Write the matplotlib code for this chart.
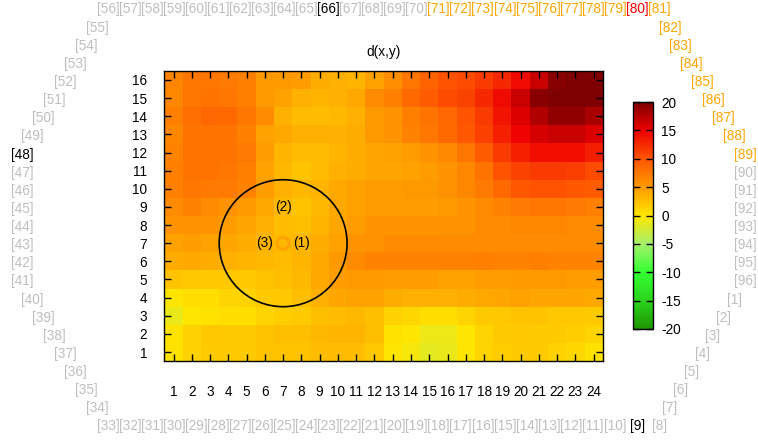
import numpy as np
import matplotlib
matplotlib.use('Agg')
import matplotlib.pyplot as plt
from matplotlib.colors import LinearSegmentedColormap
from matplotlib.patches import Circle

plt.rcParams['font.family'] = ['Liberation Sans', 'DejaVu Sans']
plt.rcParams['font.size'] = 9.8
plt.rcParams['axes.unicode_minus'] = False

# grid coordinates
x = list(range(1, 25))
y = list(range(1, 17))

# d(x,y), rows listed from y=16 (top) down to y=1 (bottom)
d_rows = [
    [6.5, 7.5, 7.5, 7.2, 7.0, 5.0, 5.0, 4.8, 3.8, 3.5, 3.2, 4.5, 5.8, 7.5, 9.0, 10.0, 10.6, 11.5, 12.5, 14.3, 16.7, 19.5, 20.0, 20.0],
    [6.3, 7.5, 7.8, 7.5, 7.0, 5.0, 4.5, 3.5, 3.2, 3.5, 4.0, 6.0, 7.0, 8.5, 9.5, 10.5, 11.0, 12.5, 14.3, 16.7, 19.5, 20.0, 20.0, 20.0],
    [7.0, 8.0, 8.7, 8.5, 7.5, 6.0, 3.5, 2.7, 2.7, 3.0, 3.5, 5.0, 5.6, 7.0, 7.8, 8.7, 10.0, 11.5, 13.8, 15.7, 17.8, 19.2, 19.2, 18.1],
    [6.3, 7.8, 7.8, 7.8, 6.8, 4.5, 4.0, 3.5, 3.5, 3.5, 3.8, 5.0, 5.5, 6.6, 7.5, 8.5, 9.8, 11.2, 13.0, 14.8, 16.0, 16.7, 16.7, 15.7],
    [6.6, 7.8, 7.8, 7.8, 7.2, 4.8, 3.2, 2.7, 2.8, 3.2, 3.8, 4.2, 4.5, 4.8, 5.4, 6.2, 7.5, 9.5, 11.5, 13.0, 14.2, 14.2, 14.2, 13.2],
    [7.0, 7.8, 7.8, 7.5, 7.0, 4.5, 3.0, 2.3, 2.8, 3.5, 3.8, 4.2, 4.2, 4.5, 4.8, 5.4, 6.3, 7.8, 10.0, 11.0, 11.5, 11.5, 11.3, 10.5],
    [7.0, 7.5, 7.3, 7.2, 6.6, 4.8, 3.5, 3.0, 3.2, 4.0, 4.5, 4.8, 4.8, 5.0, 5.0, 5.6, 6.3, 7.3, 8.5, 9.8, 10.1, 10.0, 9.8, 9.5],
    [6.0, 6.6, 6.0, 5.6, 5.0, 4.0, 3.0, 2.3, 3.0, 4.0, 4.5, 4.8, 4.8, 4.8, 4.8, 5.0, 5.4, 6.0, 6.6, 7.2, 7.5, 7.5, 7.2, 7.0],
    [5.4, 5.6, 5.4, 4.8, 4.2, 3.5, 2.8, 2.5, 3.2, 4.2, 4.8, 5.4, 5.4, 5.4, 5.4, 5.6, 5.6, 6.0, 6.0, 6.3, 6.3, 6.3, 6.0, 6.0],
    [4.5, 4.8, 4.5, 4.2, 3.8, 3.2, 3.0, 3.2, 3.8, 4.5, 5.4, 5.6, 6.0, 6.0, 6.0, 6.0, 6.0, 6.0, 6.0, 6.0, 6.0, 6.0, 6.0, 6.0],
    [3.8, 4.0, 3.8, 3.5, 3.2, 3.0, 2.8, 3.2, 4.0, 5.0, 6.0, 6.6, 6.6, 6.6, 6.6, 6.6, 6.6, 7.0, 6.6, 6.6, 7.0, 6.6, 6.6, 6.6],
    [2.3, 2.0, 2.0, 2.0, 2.0, 2.3, 2.5, 3.0, 4.0, 4.8, 5.0, 5.0, 4.8, 4.8, 4.8, 4.5, 4.5, 4.8, 4.8, 5.0, 5.0, 5.0, 4.8, 4.8],
    [0.0, 0.5, 0.6, 1.2, 1.4, 1.8, 2.0, 2.5, 3.5, 4.2, 4.5, 4.5, 3.8, 3.5, 3.5, 3.5, 3.8, 4.0, 4.2, 4.5, 4.2, 4.2, 4.2, 4.0],
    [-1.2, 0.0, 0.3, 0.5, 0.6, 1.2, 1.6, 1.8, 2.5, 2.8, 3.0, 2.5, 1.4, 1.0, 0.5, 0.5, 1.2, 1.8, 2.0, 2.3, 2.3, 2.0, 2.0, 1.8],
    [0.3, 1.4, 2.0, 1.8, 1.8, 2.3, 2.5, 2.5, 3.0, 3.2, 3.2, 2.5, 0.3, 0.0, -1.0, -1.0, 0.0, 1.2, 1.8, 2.0, 1.8, 1.8, 1.6, 1.2],
    [0.3, 1.4, 1.8, 1.8, 1.8, 2.3, 2.3, 2.3, 2.8, 2.8, 2.8, 2.0, 0.0, -0.5, -1.5, -1.2, 0.0, 1.2, 1.6, 1.8, 1.8, 1.4, 1.0, 0.3],
]
z = np.array(d_rows[::-1])

# colour bar range and ticks
cb_ticks = [-20, -15, -10, -5, 0, 5, 10, 15, 20]

# marker labels inside the plot
marks = ['(1)', '(2)', '(3)']
mark_x = [8, 7, 6]
mark_y = [7, 9, 7]

# ring of numbered labels round the figure
ring_nums = list(range(1, 97))
ring_black = [9, 48, 66]
ring_red = [80]
ring_orange = list(range(71, 80)) + list(range(81, 90))

pal = [(0.0, '#1e9600'), (0.125, '#2bd41e'), (0.25, '#33ff33'), (0.375, '#a6f06a'),
       (0.5, '#ffe600'), (0.625, '#ff9a00'), (0.75, '#ff5500'), (0.875, '#ee0000'),
       (1.0, '#7f0000')]
cmap = LinearSegmentedColormap.from_list('dxy', pal)

W, H = 758, 442
fig = plt.figure(figsize=(W / 100, H / 100), dpi=100)
ax = fig.add_axes([164.4 / W, 1 - 361.1 / H, 438.4 / W, 290.2 / H])
mesh = ax.pcolormesh(x, y, z, cmap=cmap, vmin=-20, vmax=20, shading='nearest')
ax.set_xlim(0.5, 24.5)
ax.set_ylim(0.5, 16.5)
ax.set_xticks(x)
ax.set_yticks(y)
ax.tick_params(direction='in', top=True, right=True, length=5, width=1, colors='black')
ax.tick_params(axis='x', pad=17.5)
ax.tick_params(axis='y', pad=12.5)
for s in ax.spines.values():
    s.set_linewidth(1)

ax.add_patch(Circle((7, 7), 3.5, fill=False, ec='black', lw=1.2, zorder=3))
ax.add_patch(Circle((7, 7), 0.33, fill=False, ec='#ffa200', lw=2, zorder=3))
for t, mx, my in zip(marks, mark_x, mark_y):
    ax.text(mx, my, t, ha='center', va='center', zorder=4)

fig.text(383.6 / W, 1 - 52 / H, 'd(x,y)', ha='center', va='center')

cax = fig.add_axes([633 / W, 1 - 329 / H, 20 / W, 227 / H])
cb = fig.colorbar(mesh, cax=cax, ticks=cb_ticks)
cb.outline.set_linewidth(1)
cax.yaxis.set_ticks_position('both')
cax.tick_params(direction='in', length=5, width=1, pad=6, labelleft=False, labelright=True)

# ring geometry (pixels)
x0, y0, dxh, dy, dxd = 108.0, 9.5, 22.05, 18.13, 10.75
x1 = x0 + 25 * dxh
for i in range(96):
    n = ring_nums[(55 + i) % 96]
    if i <= 25:
        px, py = x0 + dxh * i, y0
    elif i <= 47:
        k = i - 25
        px, py = x1 + dxd * min(k, 8, 23 - k), y0 + dy * k
    elif i <= 73:
        px, py = x1 - dxh * (i - 48), y0 + dy * 23
    else:
        k = 96 - i
        px, py = x0 - dxd * min(k, 8, 23 - k), y0 + dy * k
    if n in ring_black:
        c = 'black'
    elif n in ring_red:
        c = '#ff0000'
    elif n in ring_orange:
        c = '#ffa500'
    else:
        c = '#bebebe'
    fig.text(px / W, 1 - py / H, '[%d]' % n, color=c, ha='center', va='center')

fig.savefig('out.png', dpi=100)
